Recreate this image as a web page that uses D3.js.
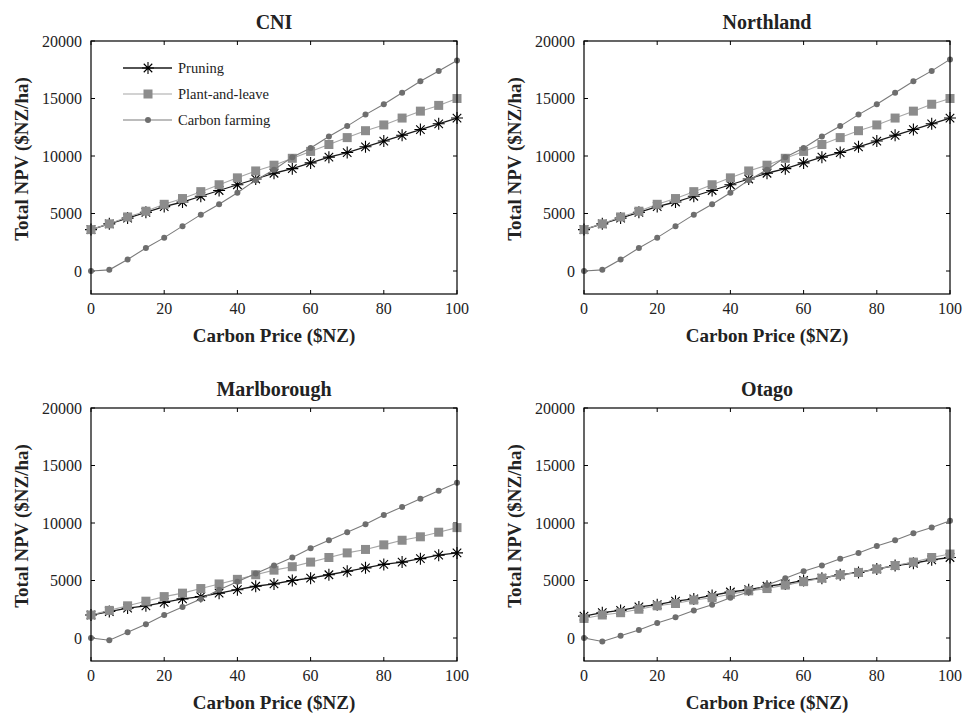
<!DOCTYPE html>
<html lang="en">
<head>
  <meta charset="UTF-8">
  <title>Total NPV vs Carbon Price</title>
  <script src="https://d3js.org/d3.v7.min.js"></script>
  <style>
    body { margin: 0; background: #fff; font-family: "Liberation Serif", "Times New Roman", serif; }
    .frame { fill: none; stroke: #000; stroke-width: 1.2px; }
    .tick-label { font-size: 16px; fill: #222; }
    .axis-title { font-size: 19px; font-weight: bold; fill: #222; }
    .panel-title { font-size: 20px; font-weight: bold; fill: #222; }
    .legend-text { font-size: 14.5px; fill: #222; }
  </style>
</head>
<body>
  <div id="chart"></div>
  <script>
    // carbon price ($NZ)
    const price = [0, 5, 10, 15, 20, 25, 30, 35, 40, 45, 50, 55, 60, 65, 70, 75, 80, 85, 90, 95, 100];

    // total NPV ($NZ/ha) per region
    const cniPruning = [3600, 4100, 4600, 5100, 5600, 6000, 6500, 7000, 7500, 8000, 8500, 8900, 9400, 9900, 10300, 10800, 11300, 11800, 12300, 12800, 13300];
    const cniPlant   = [3600, 4100, 4700, 5200, 5800, 6300, 6900, 7500, 8100, 8700, 9200, 9800, 10400, 11000, 11600, 12200, 12700, 13300, 13900, 14400, 15000];
    const cniCarbon  = [0, 100, 1000, 2000, 2900, 3900, 4900, 5800, 6800, 7900, 8800, 9900, 10700, 11700, 12600, 13600, 14500, 15500, 16500, 17400, 18300];

    const norPruning = [3600, 4100, 4600, 5100, 5600, 6000, 6500, 7000, 7500, 8000, 8500, 8900, 9400, 9900, 10300, 10800, 11300, 11800, 12300, 12800, 13300];
    const norPlant   = [3600, 4100, 4700, 5200, 5800, 6300, 6900, 7500, 8100, 8700, 9200, 9800, 10400, 11000, 11600, 12200, 12700, 13300, 13900, 14500, 15000];
    const norCarbon  = [0, 100, 1000, 2000, 2900, 3900, 4900, 5800, 6800, 7900, 8800, 9900, 10700, 11700, 12600, 13600, 14500, 15500, 16500, 17400, 18400];

    const marPruning = [2000, 2300, 2600, 2800, 3100, 3400, 3600, 3900, 4200, 4500, 4700, 5000, 5200, 5500, 5800, 6100, 6400, 6600, 6900, 7200, 7400];
    const marPlant   = [2000, 2400, 2800, 3200, 3600, 3900, 4300, 4700, 5100, 5500, 5900, 6200, 6600, 7000, 7400, 7700, 8100, 8500, 8800, 9200, 9600];
    const marCarbon  = [0, -200, 500, 1200, 2000, 2700, 3400, 4200, 4900, 5600, 6300, 7000, 7800, 8500, 9200, 9900, 10700, 11400, 12100, 12800, 13500];

    const otaPruning = [1900, 2200, 2400, 2700, 2900, 3200, 3400, 3700, 4000, 4200, 4500, 4700, 5000, 5200, 5500, 5700, 6000, 6300, 6500, 6800, 7000];
    const otaPlant   = [1700, 2000, 2200, 2500, 2800, 3000, 3300, 3500, 3800, 4100, 4300, 4600, 4900, 5200, 5500, 5700, 6000, 6300, 6600, 7000, 7300];
    const otaCarbon  = [0, -300, 200, 700, 1300, 1800, 2400, 2900, 3500, 4000, 4600, 5200, 5800, 6300, 6900, 7400, 8000, 8500, 9100, 9600, 10200];

    const xTicks = [0, 20, 40, 60, 80, 100];
    const yTicks = [0, 5000, 10000, 15000, 20000];
    const seriesNames = ["Pruning", "Plant-and-leave", "Carbon farming"];

    const width = 967, height = 713;
    const svg = d3.select("#chart").append("svg")
      .attr("width", width)
      .attr("height", height);

    const panels = [
      { title: "CNI",         left: 91,  top: 41,  series: [cniPruning, cniPlant, cniCarbon], legend: true },
      { title: "Northland",   left: 584, top: 41,  series: [norPruning, norPlant, norCarbon] },
      { title: "Marlborough", left: 91,  top: 408, series: [marPruning, marPlant, marCarbon] },
      { title: "Otago",       left: 584, top: 408, series: [otaPruning, otaPlant, otaCarbon] }
    ];
    const pw = 366, ph = 253;

    const styles = [
      { line: "#1a1a1a", lw: 1.3, marker: "star",   fill: "#000" },
      { line: "#a6a6a6", lw: 1.1, marker: "square", fill: "#8c8c8c" },
      { line: "#7a7a7a", lw: 1.1, marker: "circle", fill: "#6e6e6e" }
    ];

    // 8-armed asterisk like the matlab marker
    function starPath(r) {
      const d = r * Math.SQRT1_2;
      return `M${-r},0L${r},0M0,${-r}L0,${r}M${-d},${-d}L${d},${d}M${-d},${d}L${d},${-d}`;
    }

    function drawMarker(g, type, fill) {
      if (type === "star") {
        g.append("path").attr("d", starPath(6)).attr("stroke", fill).attr("stroke-width", 1.1).attr("fill", "none");
      } else if (type === "square") {
        g.append("rect").attr("x", -4.5).attr("y", -4.5).attr("width", 9).attr("height", 9).attr("fill", fill);
      } else {
        g.append("circle").attr("r", 3).attr("fill", fill);
      }
    }

    panels.forEach(p => {
      const x = d3.scaleLinear().domain([0, 100]).range([p.left, p.left + pw]);
      const y = d3.scaleLinear().domain([-2000, 20000]).range([p.top + ph, p.top]);
      const g = svg.append("g");

      // inward ticks on all four sides
      const tl = 4;
      xTicks.forEach(t => {
        g.append("line").attr("x1", x(t)).attr("x2", x(t)).attr("y1", p.top + ph).attr("y2", p.top + ph - tl).attr("stroke", "#000");
        g.append("line").attr("x1", x(t)).attr("x2", x(t)).attr("y1", p.top).attr("y2", p.top + tl).attr("stroke", "#000");
        g.append("text").attr("class", "tick-label")
          .attr("x", x(t)).attr("y", p.top + ph + 20)
          .attr("text-anchor", "middle").text(t);
      });
      yTicks.forEach(t => {
        g.append("line").attr("x1", p.left).attr("x2", p.left + tl).attr("y1", y(t)).attr("y2", y(t)).attr("stroke", "#000");
        g.append("line").attr("x1", p.left + pw).attr("x2", p.left + pw - tl).attr("y1", y(t)).attr("y2", y(t)).attr("stroke", "#000");
        g.append("text").attr("class", "tick-label")
          .attr("x", p.left - 9).attr("y", y(t)).attr("dy", "0.35em")
          .attr("text-anchor", "end").text(t);
      });

      const line = d3.line().x((d, i) => x(price[i])).y(d => y(d));

      p.series.forEach((vals, si) => {
        const s = styles[si];
        g.append("path").datum(vals)
          .attr("d", line)
          .attr("fill", "none")
          .attr("stroke", s.line)
          .attr("stroke-width", s.lw);
        vals.forEach((v, i) => {
          const m = g.append("g").attr("transform", `translate(${x(price[i])},${y(v)})`);
          drawMarker(m, s.marker, s.fill);
        });
      });

      g.append("rect").attr("class", "frame")
        .attr("x", p.left).attr("y", p.top).attr("width", pw).attr("height", ph);

      g.append("text").attr("class", "panel-title")
        .attr("x", p.left + pw / 2).attr("y", p.top - 12)
        .attr("text-anchor", "middle").text(p.title);

      g.append("text").attr("class", "axis-title")
        .attr("x", p.left + pw / 2).attr("y", p.top + ph + 48)
        .attr("text-anchor", "middle").text("Carbon Price ($NZ)");

      g.append("text").attr("class", "axis-title")
        .attr("transform", `translate(${p.left - 63},${p.top + 118}) rotate(-90)`)
        .attr("text-anchor", "middle").text("Total NPV ($NZ/ha)");

      if (p.legend) {
        const lx = p.left + 32, ly = p.top + 27, gap = 26;
        seriesNames.forEach((name, si) => {
          const s = styles[si];
          const yy = ly + si * gap;
          g.append("line").attr("x1", lx).attr("x2", lx + 49).attr("y1", yy).attr("y2", yy)
            .attr("stroke", s.line).attr("stroke-width", s.lw);
          const m = g.append("g").attr("transform", `translate(${lx + 25},${yy})`);
          drawMarker(m, s.marker, s.fill);
          g.append("text").attr("class", "legend-text")
            .attr("x", lx + 55).attr("y", yy).attr("dy", "0.35em").text(name);
        });
      }
    });
  </script>
</body>
</html>
